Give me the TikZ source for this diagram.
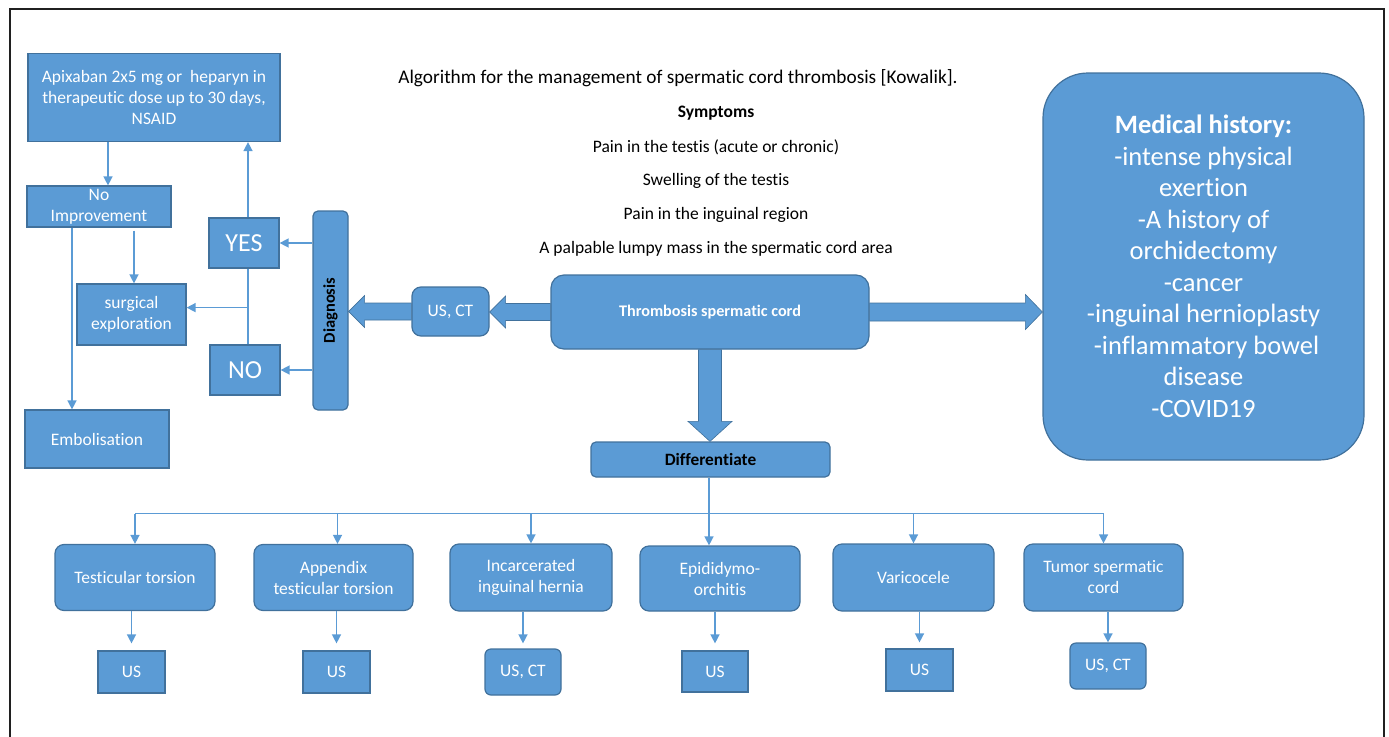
\documentclass[tikz,border=0pt]{standalone}
\usepackage{fontspec}
\setmainfont{Carlito}[RawFeature={-liga;-clig;-calt;-dlig}]
\usetikzlibrary{arrows.meta,calc}
\definecolor{fillc}{HTML}{5B9BD5}
\definecolor{bdrc}{HTML}{41719C}
\definecolor{framec}{HTML}{202020}
\begin{document}
\begin{tikzpicture}[x=1pt,y=-1pt,
 box/.style={draw=bdrc, fill=fillc, line width=1.2pt, text=white, align=center, inner sep=0pt, font=\fontsize{17.5}{21}\selectfont},
 rbox/.style={box, rounded corners=9pt},
 conn/.style={draw=fillc, line width=1.4pt, -{Triangle[length=9pt,width=9pt]}},
 wire/.style={draw=fillc, line width=1.4pt},
 barrow/.style={fill=fillc, draw=bdrc, line width=0.6pt},
 plain/.style={text=black, inner sep=0pt, font=\fontsize{17.5}{20}\selectfont}
]
\useasboundingbox (0,0) rectangle (1389,736);
% frame
\draw[framec, line width=2pt] (9.5,745) -- (9.5,8.5) -- (1383.5,8.5) -- (1383.5,745);

% texts
\node[plain, font=\fontsize{19.3}{22}\selectfont] (title) at (678,78) {Algorithm for the management of spermatic cord thrombosis [Kowalik].};
\node[plain, font=\fontsize{17.5}{20}\bfseries] (symp) at (716,113) {Symptoms};
\node[plain] (s1) at (716,147) {Pain in the testis (acute or chronic)};
\node[plain] (s2) at (716,181) {Swelling of the testis};
\node[plain] (s3) at (716,215) {Pain in the inguinal region};
\node[plain] (s4) at (716,249) {A palpable lumpy mass in the spermatic cord area};

% left part
\node[box, minimum width=252pt, minimum height=88pt] (apix) at (154,97.5) {Apixaban 2x5 mg or\ \ heparyn in\\therapeutic dose up to 30 days,\\NSAID};
\node[box, minimum width=144pt, minimum height=41pt] (noimp) at (99,206.5) {No\\Improvement};
\node[box, minimum width=109pt, minimum height=61pt] (surg) at (131.5,314.5) {surgical\\exploration};
\node[box, minimum width=144pt, minimum height=58pt] (emb) at (97,439) {Embolisation};
\node[box, minimum width=70pt, minimum height=50pt, font=\fontsize{26}{30}\selectfont] (yes) at (244,243) {YES};
\node[box, minimum width=70pt, minimum height=50pt, font=\fontsize{26}{30}\selectfont] (no) at (245,370) {NO};
\node[rbox, rounded corners=5pt, minimum width=35pt, minimum height=199pt] (diag) at (330.5,310.5) {};
\node[plain, rotate=90, font=\fontsize{16.5}{18}\bfseries] (diagt) at (diag.center) {Diagnosis};

% center
\node[rbox, minimum width=77pt, minimum height=49pt] (us1) at (450.5,311.5) {US, CT};
\node[rbox, rounded corners=13pt, minimum width=318pt, minimum height=74pt, font=\fontsize{16.2}{18}\bfseries] (thr) at (710,312) {Thrombosis spermatic cord};
\node[rbox, rounded corners=5pt, minimum width=239pt, minimum height=35pt, text=black, font=\fontsize{17.3}{18}\bfseries] (diff) at (710.5,459.5) {Differentiate};
\node[rbox, rounded corners=45pt, minimum width=321pt, minimum height=387pt, font=\fontsize{26.5}{31.5}\selectfont] (med) at (1203.5,266.5) {{\bfseries Medical history:}\\-intense physical\\exertion\\-A history of\\orchidectomy\\-cancer\\-inguinal hernioplasty\\\ -inflammatory bowel\\disease\\-COVID19};

% block arrows
\draw[barrow] let \p1=(thr.west), \p2=(us1.east) in
 (\x1,\y1+8.5pt) -- (\x2+16pt,\y1+8.5pt) -- (\x2+16pt,\y1+16pt) -- (\x2,\y1) -- (\x2+16pt,\y1-16pt) -- (\x2+16pt,\y1-8.5pt) -- (\x1,\y1-8.5pt) -- cycle;
\draw[barrow] let \p1=(us1.west), \p2=(diag.east) in
 (\x1,\y1+8.5pt) -- (\x2+16pt,\y1+8.5pt) -- (\x2+16pt,\y1+16pt) -- (\x2,\y1) -- (\x2+16pt,\y1-16pt) -- (\x2+16pt,\y1-8.5pt) -- (\x1,\y1-8.5pt) -- cycle;
\draw[barrow] let \p1=(thr.east), \p2=(med.west) in
 (\x1,\y1+9pt) -- (\x2-17pt,\y1+9pt) -- (\x2-17pt,\y1+17.5pt) -- (\x2,\y1) -- (\x2-17pt,\y1-17.5pt) -- (\x2-17pt,\y1-9pt) -- (\x1,\y1-9pt) -- cycle;
\draw[barrow] let \p1=(thr.south), \p2=(diff.north) in
 (\x1-11.5pt,\y1) -- (\x1-11.5pt,\y2+20pt) -- (\x1-22pt,\y2+20pt) -- (\x1,\y2) -- (\x1+22pt,\y2+20pt) -- (\x1+11.5pt,\y2+20pt) -- (\x1+11.5pt,\y1) -- cycle;

% left connectors
\draw[conn] (diag.west |- yes.east) -- (yes.east);
\draw[conn] (diag.west |- no.east) -- (no.east);
\coordinate (yt) at ($(yes.north)+(4,0)$);
\draw[conn] (yt) -- (yt |- apix.south);
\coordinate (yb) at ($(yes.south)+(4,0)$);
\draw[wire] (yb) -- (yb |- no.north);
\coordinate (br) at ($(yb)+(0,39)$);
\draw[conn] (br) -- (br -| surg.east);
\coordinate (a1) at ($(apix.south)+(-46,0)$);
\draw[conn] (a1) -- (a1 |- noimp.north);
\coordinate (n1) at ($(noimp.south)+(35,3)$);
\draw[conn] (n1) -- (n1 |- surg.north);
\coordinate (n2) at ($(noimp.south)+(-27,0)$);
\draw[conn] (n2) -- (n2 |- emb.north);

% bottom children
\node[rbox, minimum width=160pt, minimum height=66pt] (c1) at (135,577.5) {Testicular torsion};
\node[rbox, minimum width=159pt, minimum height=66pt] (c2) at (333.5,577.5) {Appendix\\testicular torsion};
\node[rbox, minimum width=162pt, minimum height=67pt] (c3) at (531,577.5) {Incarcerated\\inguinal hernia};
\node[rbox, minimum width=160pt, minimum height=65pt] (c4) at (720,578.5) {Epididymo-\\orchitis};
\node[rbox, minimum width=161pt, minimum height=67pt] (c5) at (913.5,577.5) {Varicocele};
\node[rbox, minimum width=159pt, minimum height=67pt] (c6) at (1103.5,577.5) {Tumor spermatic\\cord};

\node[box, minimum width=67pt, minimum height=42pt] (r1) at (131.5,672) {US};
\node[box, minimum width=67pt, minimum height=42pt] (r2) at (336.5,672) {US};
\node[rbox, rounded corners=6pt, minimum width=76pt, minimum height=46pt] (r3) at (523,672) {US, CT};
\node[box, minimum width=66pt, minimum height=41pt] (r4) at (715,671.5) {US};
\node[box, minimum width=67pt, minimum height=42pt] (r5) at (919.5,670) {US};
\node[rbox, rounded corners=6pt, minimum width=76pt, minimum height=46pt] (r6) at (1108,666) {US, CT};

\coordinate (bus) at ($(diff.south)+(-1.5,36)$);
\draw[wire] ($(diff.south)+(-1.5,0)$) -- (bus);
\draw[wire] (c1.north |- bus) -- (c6.north |- bus);
\draw[conn] (c1.north |- bus) -- (c1.north);
\draw[conn] ($(c2.north |- bus)+(4,0)$) coordinate (b2) -- (b2 |- c2.north);
\draw[conn] (c3.north |- bus) -- (c3.north);
\draw[conn] (bus) -- (bus |- c4.north);
\draw[conn] (c5.north |- bus) -- (c5.north);
\draw[conn] (c6.north |- bus) -- (c6.north);

\draw[conn, shorten >=7pt] (r1.north |- c1.south) -- (r1.north);
\draw[conn, shorten >=7pt] (r2.north |- c2.south) -- (r2.north);
\draw[conn, shorten >=5pt] (r3.north |- c3.south) -- (r3.north);
\draw[conn, shorten >=7pt] (r4.north |- c4.south) -- (r4.north);
\draw[conn, shorten >=6pt] (r5.north |- c5.south) -- (r5.north);
\draw[conn] (r6.north |- c6.south) -- (r6.north);
\end{tikzpicture}
\end{document}
